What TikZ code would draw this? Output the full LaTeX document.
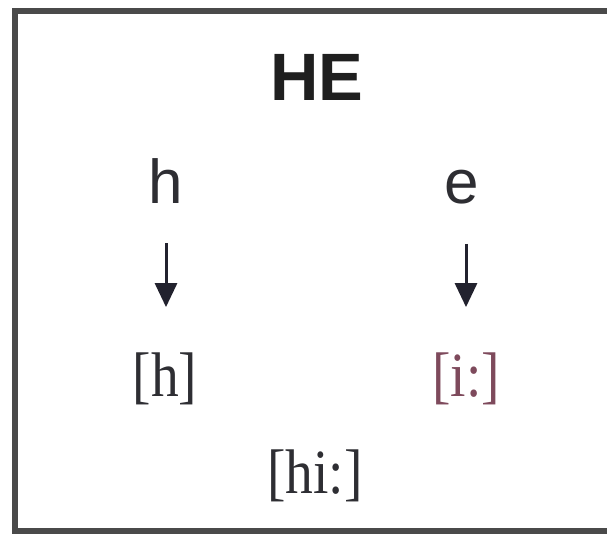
\documentclass[tikz,border=0pt]{standalone}
\usepackage{fontspec}
\setmainfont{Liberation Serif}
\newfontfamily\arialfont{Liberation Sans}
\usetikzlibrary{arrows.meta}
\definecolor{framegray}{HTML}{4A4A4A}
\definecolor{txt}{HTML}{2E2E33}
\definecolor{arrowcol}{HTML}{22222E}
\definecolor{mauve}{HTML}{7E4A5C}
\newcommand{\narrowipa}[1]{\scalebox{0.88}[1]{#1}}
\tikzset{
  title/.style={font=\arialfont\bfseries\fontsize{67}{67}\selectfont, text=black!88, inner sep=0pt, anchor=base},
  letter/.style={font=\arialfont\fontsize{62}{62}\selectfont, text=txt, inner sep=0pt, anchor=base},
  ipa/.style={font=\fontsize{63}{63}\selectfont, text=txt, inner sep=0pt, anchor=base},
  downarrow/.style={draw=arrowcol, line width=3pt, -{Triangle[width=22pt,length=24pt]}},
  frameline/.style={draw=framegray, line width=5.5pt}
}
\begin{document}
\begin{tikzpicture}[x=1pt,y=1pt]
\useasboundingbox[fill=white] (0,0) rectangle (607,-533);
\draw[frameline] (620,-11) -- (15,-11) -- (15,-531) -- (620,-531);
\node[title] (HE) at (317,-100) {HE};
\node[letter] (h) at (166,-203) {h};
\node[letter] (e) at (462,-203) {e};
\node[ipa] (bh) at (165,-396) {\narrowipa{[h]}};
\node[ipa, text=mauve] (bi) at (466,-396) {\narrowipa{[i:]}};
\node[ipa] (bhi) at (315,-493) {\narrowipa{[hi:]}};
\draw[downarrow, shorten <=40pt, shorten >=45pt] (h.south) -- (h.south |- bh.north);
\draw[downarrow, shorten <=40pt, shorten >=45pt] (e.south -| bi.north) -- (bi.north);
\end{tikzpicture}
\end{document}
